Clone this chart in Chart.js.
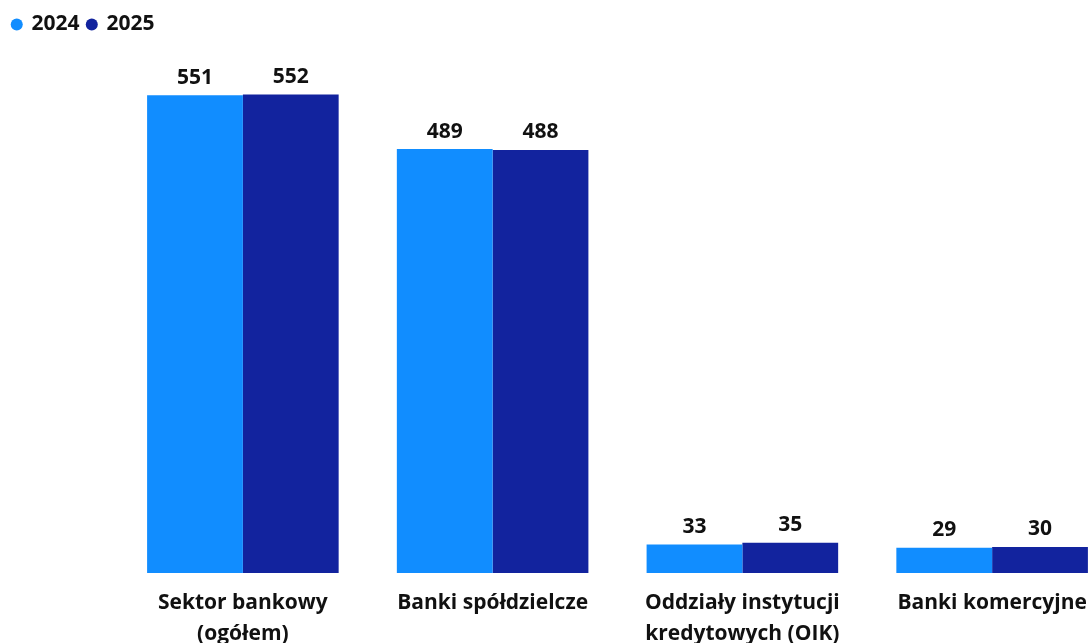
<!DOCTYPE html>
<html>
<head>
<meta charset="utf-8">
<script src="https://cdn.jsdelivr.net/npm/chart.js@4"></script>
<style>
  html, body { margin: 0; padding: 0; background: #fff; overflow: hidden; }
  #wrap { position: relative; width: 1120px; height: 665px; }
</style>
</head>
<body>
<div id="wrap"><canvas id="c"></canvas></div>
<script>
const categories = [
  ['Sektor bankowy', '(ogółem)'],
  'Banki spółdzielcze',
  ['Oddziały instytucji', 'kredytowych (OIK)'],
  'Banki komercyjne'
];
const seriesNames = ['2024', '2025'];
const values2024 = [551, 489, 33, 29];
const values2025 = [552, 488, 35, 30];

const FONT = "'Open Sans', 'DejaVu Sans', sans-serif";

const dataLabels = {
  id: 'dataLabels',
  afterDatasetsDraw(chart) {
    const ctx = chart.ctx;
    ctx.save();
    ctx.font = "bold 21px " + FONT;
    ctx.fillStyle = '#111';
    ctx.textAlign = 'center';
    ctx.textBaseline = 'middle';
    chart.data.datasets.forEach((ds, di) => {
      const meta = chart.getDatasetMeta(di);
      meta.data.forEach((el, i) => {
        ctx.fillText(String(ds.data[i]), el.x, el.y - 17.5);
      });
    });
    ctx.restore();
  }
};

new Chart(document.getElementById('c'), {
  type: 'bar',
  data: {
    labels: categories,
    datasets: [
      { label: seriesNames[0], data: values2024, backgroundColor: '#118DFF', borderWidth: 0 },
      { label: seriesNames[1], data: values2025, backgroundColor: '#12239E', borderWidth: 0 }
    ]
  },
  options: {
    responsive: true,
    maintainAspectRatio: false,
    animation: false,
    layout: { padding: { left: 4.5, right: 3, top: 6, bottom: 0 } },
    datasets: { bar: { categoryPercentage: 0.767, barPercentage: 1 } },
    plugins: {
      tooltip: { enabled: false },
      legend: {
        position: 'top',
        align: 'start',
        labels: {
          usePointStyle: true,
          pointStyle: 'circle',
          boxWidth: 8.5,
          boxHeight: 8.5,
          padding: 8,
          color: '#111',
          font: { family: FONT, size: 21, weight: 'bold' }
        }
      }
    },
    scales: {
      x: {
        grid: { display: false, drawTicks: false },
        border: { display: false },
        ticks: {
          color: '#111',
          padding: 15,
          maxRotation: 0,
          autoSkip: false,
          font: { family: FONT, size: 21, weight: 'bold', lineHeight: '31px' }
        }
      },
      y: {
        min: 0,
        max: 609,
        grid: { display: false, drawTicks: false },
        border: { display: false },
        ticks: { display: false },
        afterFit(scale) { scale.width = 113.5; }
      }
    }
  },
  plugins: [dataLabels]
});
</script>
</body>
</html>
